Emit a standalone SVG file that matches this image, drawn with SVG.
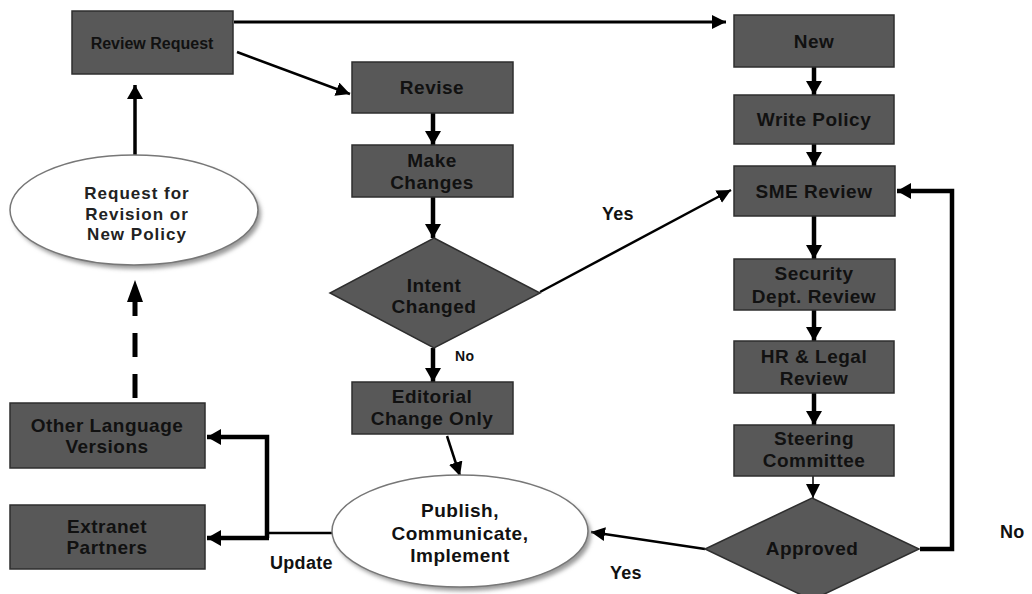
<svg xmlns="http://www.w3.org/2000/svg" width="1032" height="594" viewBox="0 0 1032 594">
<style>
.box{fill:#585858;stroke:#2e2e2e;stroke-width:1.5}
.ell{fill:#ffffff;stroke:#777;stroke-width:1.5}
.sh{fill:#9a9a9a;filter:url(#blur)}
text{font-family:"Liberation Sans",Arial,sans-serif;font-weight:bold;fill:#111;text-anchor:middle}
.t{font-size:19px;letter-spacing:0.5px}
.ts{font-size:16px}
.te{font-size:17px;letter-spacing:1px;fill:#222}
.lbl{font-size:18px;text-anchor:start;letter-spacing:0.3px}
.c{fill:none;stroke:#000}
.w4{stroke-width:4.5}
.w3{stroke-width:3}
.w2{stroke-width:2.5}
</style>
<defs>
<filter id="blur" x="-10%" y="-10%" width="120%" height="120%"><feGaussianBlur stdDeviation="2"/></filter>
<marker id="ab" markerUnits="userSpaceOnUse" markerWidth="18" markerHeight="18" refX="14" refY="8" orient="auto"><path d="M0,0 L14,8 L0,16 z" fill="#000"/></marker>
<marker id="am" markerUnits="userSpaceOnUse" markerWidth="18" markerHeight="18" refX="14" refY="7" orient="auto"><path d="M0,0 L14,7 L0,14 z" fill="#000"/></marker>
</defs>

<g id="connectors">
<path class="c w3" d="M234,22 H726" marker-end="url(#am)"/>
<path class="c w2" d="M237,52 L350,94" marker-end="url(#am)"/>
<path class="c w4" d="M433,113 V145" marker-end="url(#ab)"/>
<path class="c w4" d="M433,197 V238" marker-end="url(#ab)"/>
<path class="c w4" d="M433,348 V382" marker-end="url(#ab)"/>
<path class="c w2" d="M540,292 L731,190" marker-end="url(#am)"/>
<path class="c w4" d="M814,67 V95" marker-end="url(#ab)"/>
<path class="c w4" d="M814,144 V166" marker-end="url(#ab)"/>
<path class="c w4" d="M814,216 V259" marker-end="url(#ab)"/>
<path class="c w4" d="M814,310 V341" marker-end="url(#ab)"/>
<path class="c w4" d="M814,393 V425" marker-end="url(#ab)"/>
<path class="c" stroke-width="1.5" d="M813,476 V498" marker-end="url(#am)"/>
<path class="c w4" d="M920,549 H952 V191 H897" marker-end="url(#ab)"/>
<path class="c w2" d="M705,549 L591,532" marker-end="url(#am)"/>
<path class="c w2" d="M447,436 L460,476" marker-end="url(#am)"/>
<path class="c w2" d="M332,533 H267"/>
<path class="c w4" d="M267,538 V437 H207" marker-end="url(#ab)"/>
<path class="c w4" d="M269,538 H207" marker-end="url(#ab)"/>
<path class="c" stroke-width="3.5" d="M135,155 V85" marker-end="url(#ab)"/>
<path class="c" stroke-width="5" stroke-dasharray="24,17" d="M135,398 V290"/>
<path d="M127,302 L135,280 L143,302 z" fill="#000"/>
<text class="lbl" x="455" y="361" style="font-size:14px">No</text>
<text class="lbl" x="602" y="220">Yes</text>
<text class="lbl" x="610" y="579">Yes</text>
<text class="lbl" x="270" y="569">Update</text>
<text class="lbl" x="1000" y="538">No</text>
</g>

<g id="review-request"><rect class="box" x="72" y="11" width="161" height="63"/><text class="ts" x="152" y="49">Review Request</text></g>
<g id="new"><rect class="box" x="734" y="15" width="160" height="52"/><text class="t" x="814" y="48">New</text></g>
<g id="write-policy"><rect class="box" x="734" y="95" width="160" height="49"/><text class="t" x="814" y="126">Write Policy</text></g>
<g id="sme-review"><rect class="box" x="734" y="166" width="161" height="50"/><text class="t" x="814" y="198">SME Review</text></g>
<g id="security"><rect class="box" x="734" y="259" width="161" height="51"/><text class="t" x="814" y="280">Security</text><text class="t" x="814" y="303">Dept. Review</text></g>
<g id="hr-legal"><rect class="box" x="734" y="341" width="160" height="52"/><text class="t" x="814" y="363">HR &amp; Legal</text><text class="t" x="814" y="385">Review</text></g>
<g id="steering"><rect class="box" x="734" y="425" width="160" height="51"/><text class="t" x="814" y="445">Steering</text><text class="t" x="814" y="467">Committee</text></g>
<g id="approved"><path class="box" d="M812,498 L919,549 L812,600 L705,549 z"/><text class="t" x="812" y="555">Approved</text></g>
<g id="revise"><rect class="box" x="352" y="62" width="161" height="51"/><text class="t" x="432" y="94">Revise</text></g>
<g id="make-changes"><rect class="box" x="352" y="145" width="161" height="52"/><text class="t" x="432" y="167">Make</text><text class="t" x="432" y="189">Changes</text></g>
<g id="intent-changed"><path class="box" d="M434,238 L540,293 L434,348 L330,293 z"/><text class="t" x="434" y="292">Intent</text><text class="t" x="434" y="313">Changed</text></g>
<g id="editorial"><rect class="box" x="352" y="382" width="161" height="52"/><text class="t" x="432" y="403">Editorial</text><text class="t" x="432" y="425">Change Only</text></g>
<g id="publish"><ellipse class="sh" cx="463" cy="535" rx="128" ry="56"/><ellipse class="ell" cx="460" cy="531" rx="128" ry="56"/><text class="t" x="460" y="517">Publish,</text><text class="t" x="460" y="540">Communicate,</text><text class="t" x="460" y="562">Implement</text></g>
<g id="request"><ellipse class="sh" cx="137" cy="214" rx="124" ry="55"/><ellipse class="ell" cx="134" cy="210" rx="124" ry="55"/><text class="te" x="137" y="199">Request for</text><text class="te" x="137" y="220">Revision or</text><text class="te" x="137" y="240">New Policy</text></g>
<g id="other-language"><rect class="box" x="10" y="403" width="195" height="65"/><text class="t" x="107" y="432">Other Language</text><text class="t" x="107" y="453">Versions</text></g>
<g id="extranet"><rect class="box" x="10" y="505" width="195" height="64"/><text class="t" x="107" y="533">Extranet</text><text class="t" x="107" y="554">Partners</text></g>
</svg>
